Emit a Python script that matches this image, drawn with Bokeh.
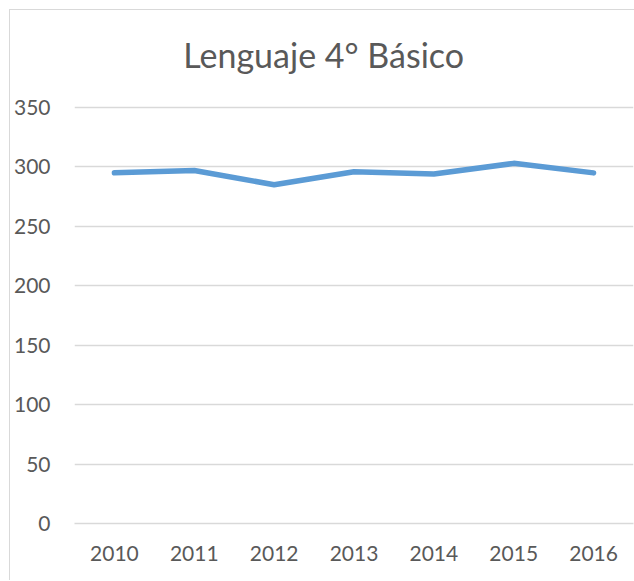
from bokeh.plotting import figure
from bokeh.models import Range1d, FactorRange, Label
from bokeh.embed import file_html
from bokeh.resources import INLINE

years = ["2010", "2011", "2012", "2013", "2014", "2015", "2016"]
scores = [295, 297, 285, 296, 294, 303, 295]
y_ticks = [0, 50, 100, 150, 200, 250, 300, 350]
title_text = "Lenguaje 4° Básico"

FONT = "Lato"
TXT = "#595959"

# frame spans the full canvas height above the x axis; the room above 350 holds the title
p = figure(width=625, height=571, x_range=FactorRange(*years, range_padding=0),
           y_range=Range1d(0, 431.6), output_backend="svg", toolbar_location=None,
           min_border_left=62, min_border_right=2, min_border_top=0, min_border_bottom=58)
p.styles = {"border-left": "1px solid #d9d9d9", "border-top": "1px solid #d9d9d9",
            "margin-left": "9px", "margin-top": "9px"}

title = Label(x=3.12, y=394.5, text=title_text,
              text_font=FONT, text_font_size="34px", text_color=TXT,
              text_align="center", text_baseline="alphabetic")
p.add_layout(title)

p.line(years, scores, line_color="#5B9BD5", line_width=5.5, line_cap="round", line_join="round")

p.outline_line_color = None
p.xgrid.grid_line_color = None
p.ygrid.grid_line_color = "#D9D9D9"
p.ygrid.grid_line_width = 1.3
p.yaxis.ticker = y_ticks

for ax in (p.xaxis, p.yaxis):
    ax.axis_line_color = None
    ax.major_tick_line_color = None
    ax.minor_tick_line_color = None
    ax.major_tick_out = 0
    ax.major_tick_in = 0
    ax.minor_tick_out = 0
    ax.minor_tick_in = 0
    ax.major_label_text_font = FONT
    ax.major_label_text_font_size = "21px"
    ax.major_label_text_color = TXT
p.xaxis.major_label_standoff = 22
p.yaxis.major_label_standoff = 24
p.xaxis.axis_line_color = "#D9D9D9"
p.xaxis.axis_line_width = 1.3

open("out.html", "w").write(file_html(p, INLINE))
